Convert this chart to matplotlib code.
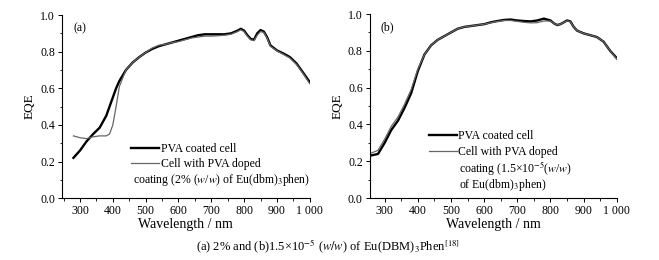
import numpy as np
import matplotlib
matplotlib.use("Agg")
from matplotlib import pyplot as plt
from matplotlib.ticker import MultipleLocator

plt.rcParams['font.family'] = ['Liberation Serif', 'DejaVu Serif']
plt.rcParams['mathtext.fontset'] = 'stix'
plt.rcParams['font.size'] = 8.5

# panel (a): 2% doped
wl_a = [280, 300, 320, 340, 360, 380, 390, 400, 410, 420, 440, 460, 480, 500, 520, 540, 560, 580,
        600, 620, 640, 660, 680, 700, 720, 740, 760, 780, 790, 800, 810, 820, 830, 840,
        850, 860, 870, 880, 900, 920, 940, 960, 980, 1000]
pva_a = [0.22, 0.26, 0.31, 0.35, 0.385, 0.45, 0.50, 0.55, 0.60, 0.64, 0.70, 0.74, 0.77, 0.795,
         0.815, 0.83, 0.84, 0.85, 0.86, 0.87, 0.88, 0.89, 0.895, 0.895, 0.895, 0.895, 0.90,
         0.915, 0.925, 0.915, 0.89, 0.87, 0.865, 0.90, 0.918, 0.91, 0.88, 0.835, 0.807, 0.79,
         0.77, 0.735, 0.685, 0.634]
dop_a = [0.34, 0.33, 0.325, 0.335, 0.34, 0.34, 0.35, 0.40, 0.50, 0.61, 0.70, 0.74, 0.77, 0.795,
         0.82, 0.835, 0.84, 0.85, 0.855, 0.865, 0.875, 0.88, 0.885, 0.885, 0.887, 0.89, 0.895,
         0.91, 0.92, 0.91, 0.885, 0.865, 0.86, 0.89, 0.91, 0.905, 0.875, 0.83, 0.805, 0.785,
         0.765, 0.73, 0.68, 0.625]

# panel (b): 1.5e-5 doped
wl_b = [260, 280, 300, 320, 340, 360, 380, 400, 420, 440, 460, 480, 500, 520, 540, 560, 580,
        600, 620, 640, 660, 680, 700, 720, 740, 760, 780, 800, 810, 820, 830, 840, 850, 860,
        870, 880, 900, 920, 940, 960, 980, 1000]
pva_b = [0.232, 0.24, 0.30, 0.37, 0.42, 0.49, 0.57, 0.69, 0.78, 0.83, 0.86, 0.88, 0.90, 0.92,
         0.93, 0.935, 0.94, 0.945, 0.955, 0.962, 0.968, 0.97, 0.965, 0.962, 0.96, 0.965, 0.975,
         0.965, 0.95, 0.94, 0.945, 0.955, 0.965, 0.96, 0.93, 0.91, 0.895, 0.885, 0.875, 0.85,
         0.80, 0.76]
dop_b = [0.245, 0.26, 0.32, 0.39, 0.44, 0.51, 0.59, 0.70, 0.78, 0.83, 0.86, 0.88, 0.90, 0.92,
         0.93, 0.935, 0.94, 0.945, 0.953, 0.96, 0.965, 0.965, 0.96, 0.955, 0.952, 0.953, 0.962,
         0.962, 0.95, 0.94, 0.945, 0.955, 0.963, 0.958, 0.93, 0.91, 0.895, 0.885, 0.875, 0.85,
         0.80, 0.755]

fig = plt.figure(figsize=(6.59, 2.60), dpi=100)
axA = fig.add_axes([0.094, 0.238, 0.376, 0.704])
axB = fig.add_axes([0.561, 0.238, 0.375, 0.708])

for ax, wl, pva, dop, xmin, tag in [(axA, wl_a, pva_a, dop_a, 245, '(a)'),
                                     (axB, wl_b, pva_b, dop_b, 255, '(b)')]:
    ax.plot(wl, pva, color='black', lw=1.7, label='PVA coated cell')
    ax.plot(wl, dop, color='#666666', lw=0.9, label='Cell with PVA doped')
    ax.set_xlim(xmin, 1000)
    ax.set_ylim(0, 1.0)
    ax.spines['top'].set_visible(False)
    ax.spines['right'].set_visible(False)
    ax.xaxis.set_minor_locator(MultipleLocator(50))
    ax.yaxis.set_minor_locator(MultipleLocator(0.1))
    ax.set_xticks(range(300, 1001, 100))
    ax.set_xticklabels([str(v) for v in range(300, 1000, 100)] + ['1 000'])
    ax.set_yticks(np.arange(0, 1.01, 0.2))
    ax.set_yticklabels(['0.0', '0.2', '0.4', '0.6', '0.8', '1.0'])
    ax.tick_params(direction='out', length=3, width=0.7, pad=2)
    ax.tick_params(which='minor', direction='out', length=1.8, width=0.6)
    ax.set_xlabel('Wavelength / nm', labelpad=1, fontsize=10)
    ax.set_ylabel('EQE', labelpad=3, fontsize=9.5)
    ax.text(0.045, 0.93, tag, transform=ax.transAxes, va='center')

legA = axA.legend(loc='upper left', bbox_to_anchor=(0.255, 0.335), frameon=False,
                  handlelength=2.4, handletextpad=0.1, labelspacing=0.3, borderpad=0)
axA.text(0.285, 0.10, 'coating (2% ($w$/$w$) of Eu(dbm)$_3$phen)', transform=axA.transAxes,
         va='center')

legB = axB.legend(loc='upper left', bbox_to_anchor=(0.215, 0.40), frameon=False,
                  handlelength=2.4, handletextpad=0.1, labelspacing=0.3, borderpad=0)
axB.text(0.36, 0.165, 'coating (1.5\u00d710$^{-5}$($w$/$w$)', transform=axB.transAxes, va='center')
axB.text(0.36, 0.07, 'of Eu(dbm)$_3$phen)', transform=axB.transAxes, va='center')

fig.text(0.497, 0.05, '(a) 2% and (b)1.5\u00d710$^{-5}$ ($w/w$) of Eu(DBM)$_3$Phen$^{[18]}$',
         ha='center', va='center', fontsize=9)

fig.savefig('out.png', dpi=100)
